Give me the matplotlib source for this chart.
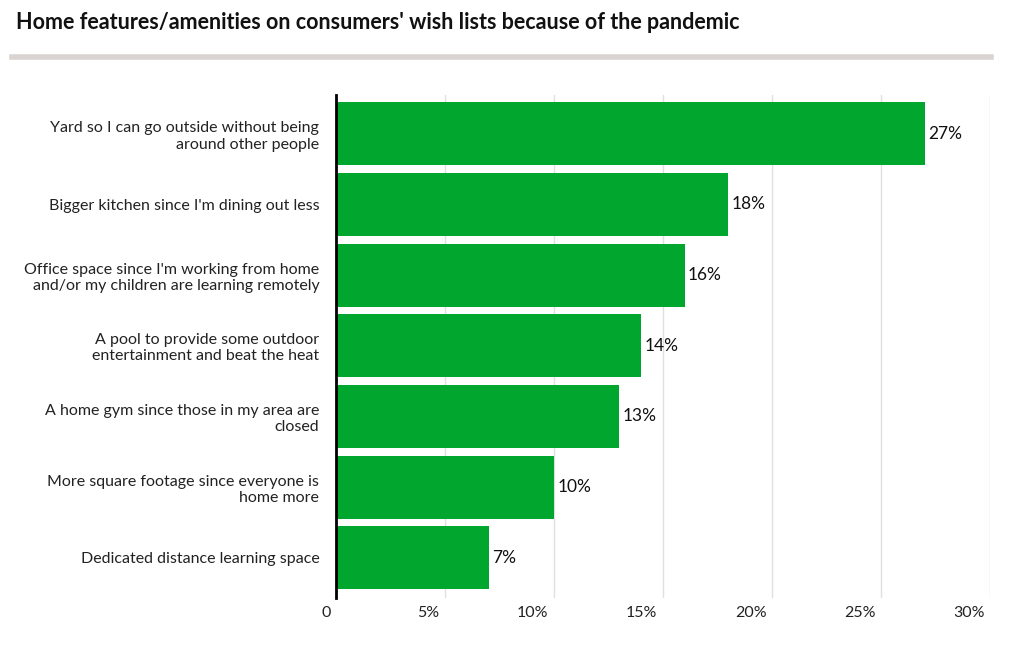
import matplotlib
matplotlib.use("Agg")
import matplotlib.pyplot as plt
from matplotlib.lines import Line2D

categories = ["Yard so I can go outside without being\naround other people",
              "Bigger kitchen since I'm dining out less",
              "Office space since I'm working from home\nand/or my children are learning remotely",
              "A pool to provide some outdoor\nentertainment and beat the heat",
              "A home gym since those in my area are\nclosed",
              "More square footage since everyone is\nhome more",
              "Dedicated distance learning space"]
values = [27, 18, 16, 14, 13, 10, 7]
ticks = [0, 5, 10, 15, 20, 25, 30]
tick_labels = ["0", "5%", "10%", "15%", "20%", "25%", "30%"]

plt.rcParams['font.family'] = ['Lato', 'DejaVu Sans']
fig = plt.figure(figsize=(10.18, 6.46), dpi=100)
ax = fig.add_axes([0.330, 0.0743, 0.6425, 0.7787])
y = list(range(len(values)))
ax.barh(y, values, height=0.89, color='#00a62e', zorder=2)
for yi, v in zip(y, values):
    ax.text(v + 0.15, yi, f"{v}%", va='center', ha='left', fontsize=12.5, color='#111111')
ax.set_ylim(6.57, -0.55)
ax.set_xlim(0, 30)
ax.set_yticks(y)
ax.set_yticklabels(categories, fontsize=11.5, color='#222222', ha='right')
ax.tick_params(axis='y', length=0, pad=12)
ax.set_xticks([])
for t, lab in zip(ticks, tick_labels):
    if t > 0:
        ax.axvline(t, color='#e0e0e0', lw=1, zorder=0)
    ax.text(t - 0.25, 6.57 + 0.12, lab, ha='right', va='top', fontsize=11.5, color='#222222')
for s in ['top', 'right', 'bottom']:
    ax.spines[s].set_visible(False)
ax.spines['left'].set_linewidth(2)
ax.spines['left'].set_color('black')
ax.spines['left'].set_zorder(3)
fig.text(0.016, 0.965, "Home features/amenities on consumers' wish lists because of the pandemic",
         fontsize=15.5, fontweight='bold', ha='left', va='center', color='#111111')
fig.add_artist(Line2D([0.012, 0.973], [0.912, 0.912], color='#d9d4d2', lw=4, transform=fig.transFigure))
fig.savefig("out.png", dpi=100)
